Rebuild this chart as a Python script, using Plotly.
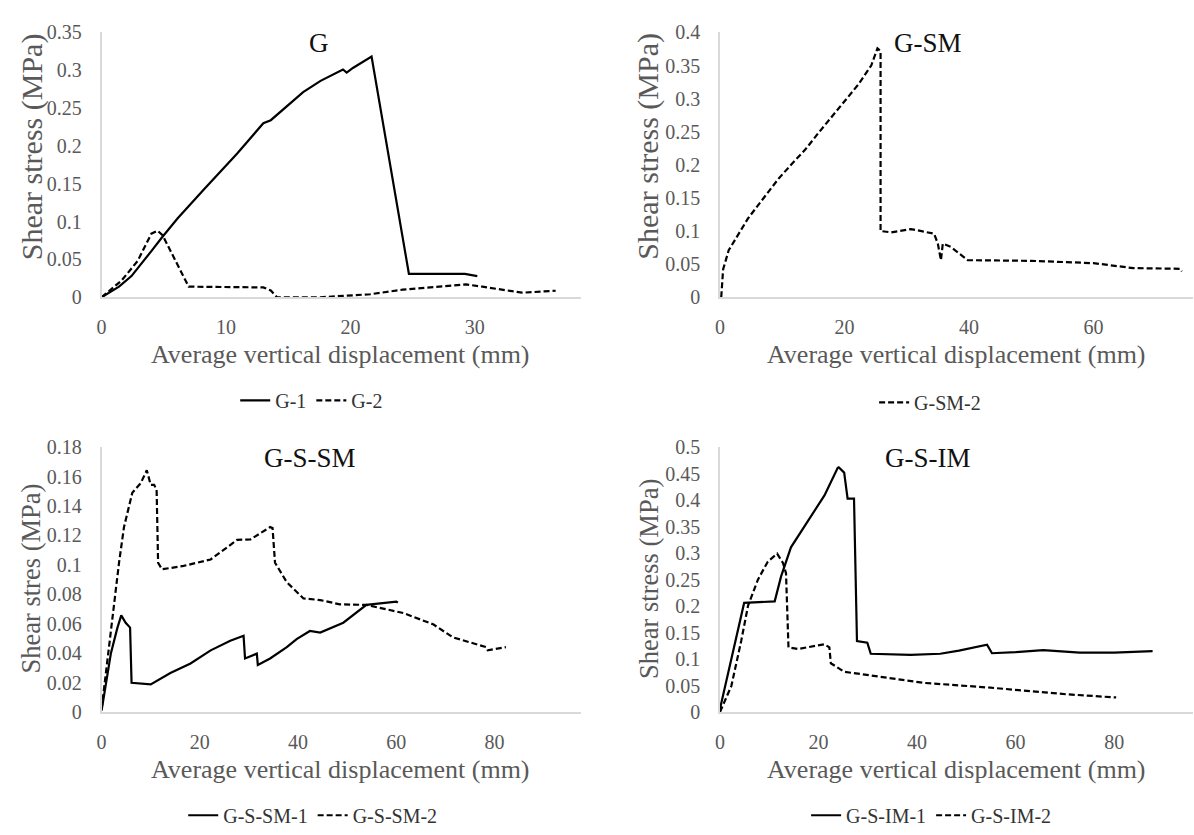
import plotly.graph_objects as go

# ---- measured curves: average vertical displacement (mm) vs shear stress (MPa)
g1_x = [0, 1.4, 2.4, 3.4, 4.0, 4.8, 6.1, 8.2, 10.9, 13.0, 13.3, 13.6, 16.2, 17.6,
        19.4, 19.7, 20.2, 21.7, 24.7, 29.2, 30.2]
g1_y = [0, 0.014, 0.028, 0.048, 0.061, 0.078, 0.104, 0.142, 0.190, 0.230, 0.232,
        0.234, 0.271, 0.286, 0.301, 0.297, 0.303, 0.318, 0.031, 0.031, 0.028]

g2_x = [0, 1.6, 2.9, 3.4, 4.0, 4.5, 4.9, 7.0, 10.1, 13.0, 13.6, 14.1, 17.6, 21.6,
        24.2, 26.5, 29.3, 30.6, 33.8, 36.5]
g2_y = [0, 0.022, 0.048, 0.065, 0.084, 0.088, 0.082, 0.014, 0.013, 0.013, 0.009,
        0.0, 0.0, 0.004, 0.010, 0.013, 0.017, 0.014, 0.006, 0.0086]

gsm2_x = [0.2, 0.5, 1.4, 3.0, 4.5, 6.2, 7.8, 9.4, 11.5, 13.7, 15.8, 17.9, 20.0,
          22.2, 24.3, 25.3, 25.8, 25.8, 27.5, 30.7, 34.4, 35.0, 35.5, 35.8, 37.1,
          39.8, 50.0, 60.0, 66.4, 73.9, 74.2]
gsm2_y = [0, 0.042, 0.071, 0.096, 0.119, 0.140, 0.160, 0.179, 0.201, 0.223, 0.248,
          0.272, 0.297, 0.321, 0.350, 0.376, 0.372, 0.100, 0.098, 0.103, 0.096,
          0.081, 0.056, 0.081, 0.076, 0.056, 0.055, 0.0515, 0.044, 0.043, 0.039]

gssm1_x = [0, 1.9, 3.2, 4.0, 4.9, 5.8, 6.1, 10.0, 14.0, 18.1, 22.2, 26.2, 28.9,
           29.2, 31.6, 31.8, 34.3, 37.7, 39.7, 42.4, 44.5, 49.2, 53.9, 60.0, 60.3]
gssm1_y = [0.001, 0.040, 0.057, 0.0657, 0.0607, 0.0574, 0.0199, 0.0188, 0.0265,
           0.033, 0.0419, 0.0485, 0.0518, 0.0364, 0.0397, 0.032, 0.0364, 0.0441,
           0.0496, 0.0551, 0.054, 0.0607, 0.0728, 0.075, 0.0743]

gssm2_x = [0, 0.85, 2.5, 3.55, 4.56, 6.25, 7.95, 9.2, 10.0, 10.7, 11.2, 11.5, 12.3,
           16.7, 22.2, 27.6, 30.3, 34.3, 34.8, 35.3, 37.7, 41.1, 44.5, 48.5, 53.9,
           61.4, 67.5, 71.5, 78.3, 78.6, 82.3]
gssm2_y = [0.002, 0.0265, 0.0706, 0.1015, 0.1257, 0.149, 0.1555, 0.1643, 0.1544,
           0.1544, 0.151, 0.1015, 0.097, 0.0993, 0.1037, 0.117, 0.1173, 0.1257,
           0.125, 0.1015, 0.0882, 0.0772, 0.0761, 0.0732, 0.0728, 0.0673, 0.0596,
           0.0508, 0.0441, 0.042, 0.0441]

gsim1_x = [0, 2.3, 3.7, 4.9, 11.1, 12.4, 14.4, 17.8, 21.2, 23.9, 24.1, 25.2, 25.9,
           27.2, 27.8, 29.9, 30.6, 38.7, 44.7, 48.5, 51.5, 54.2, 55.2, 60.0, 65.6,
           73.0, 80.0, 87.8]
gsim1_y = [0.006, 0.098, 0.153, 0.206, 0.209, 0.256, 0.311, 0.360, 0.409, 0.461,
           0.462, 0.452, 0.403, 0.403, 0.134, 0.131, 0.110, 0.108, 0.110, 0.116,
           0.122, 0.127, 0.111, 0.113, 0.117, 0.112, 0.112, 0.115]

gsim2_x = [0, 2.3, 4.3, 5.7, 7.7, 9.7, 11.6, 12.8, 13.4, 13.9, 15.8, 21.2, 22.2,
           22.5, 25.2, 29.9, 34.6, 41.4, 54.9, 70.3, 80.4]
gsim2_y = [0, 0.049, 0.134, 0.201, 0.250, 0.284, 0.299, 0.281, 0.262, 0.122, 0.119,
           0.128, 0.122, 0.092, 0.076, 0.070, 0.064, 0.055, 0.046, 0.0335, 0.0275]

# ---- tick labels
g_xticks = [0, 10, 20, 30]
g_yticks = [0, 0.05, 0.1, 0.15, 0.2, 0.25, 0.3, 0.35]
gsm_xticks = [0, 20, 40, 60]
gsm_yticks = [0, 0.05, 0.1, 0.15, 0.2, 0.25, 0.3, 0.35, 0.4]
gssm_xticks = [0, 20, 40, 60, 80]
gssm_yticks = [0, 0.02, 0.04, 0.06, 0.08, 0.1, 0.12, 0.14, 0.16, 0.18]
gsim_xticks = [0, 20, 40, 60, 80]
gsim_yticks = [0, 0.05, 0.1, 0.15, 0.2, 0.25, 0.3, 0.35, 0.4, 0.45, 0.5]

W, H = 1194, 835
FONT = "Liberation Serif"
GREY = "#595959"
AXIS_LINE = "#d9d9d9"
DASH = "6px,3px"


def px(x):
    return x / W


def py(y):
    return (H - y) / H


fig = go.Figure()

series = [
    (g1_x, g1_y, "G-1", "solid", "x", "y", "legend"),
    (g2_x, g2_y, "G-2", DASH, "x", "y", "legend"),
    (gsm2_x, gsm2_y, "G-SM-2", DASH, "x2", "y2", "legend2"),
    (gssm1_x, gssm1_y, "G-S-SM-1", "solid", "x3", "y3", "legend3"),
    (gssm2_x, gssm2_y, "G-S-SM-2", DASH, "x3", "y3", "legend3"),
    (gsim1_x, gsim1_y, "G-S-IM-1", "solid", "x4", "y4", "legend4"),
    (gsim2_x, gsim2_y, "G-S-IM-2", DASH, "x4", "y4", "legend4"),
]
for xs, ys, name, dash, xa, ya, lg in series:
    fig.add_trace(go.Scatter(
        x=xs, y=ys, name=name, mode="lines",
        line=dict(color="black", width=2.2, dash=dash),
        xaxis=xa, yaxis=ya, legend=lg,
    ))


def fmt(v):
    return "0" if v == 0 else ("%g" % v)


def axis(domain, rng, ticks, anchor, ticklen):
    # invisible outside ticks are used only to push the labels off the axis line
    return dict(domain=domain, range=rng, anchor=anchor,
                tickvals=ticks, ticktext=[fmt(t) for t in ticks],
                showgrid=False, zeroline=False, showline=True,
                linecolor=AXIS_LINE, linewidth=1.5,
                ticks="outside", ticklen=ticklen, tickcolor="rgba(0,0,0,0)",
                tickfont=dict(family=FONT, size=20, color=GREY))


left = [px(97), px(578)]
right = [px(718), px(1193)]
top = [py(294), py(22)]
bottom = [py(720), py(448)]

XT, YT = 11, 14
layout = dict(
    width=W, height=H,
    margin=dict(l=0, r=0, t=0, b=0),
    paper_bgcolor="white", plot_bgcolor="white",
    font=dict(family=FONT),
    xaxis=axis(left, [0, 38.5], g_xticks, "y", XT),
    yaxis=axis(top, [0, 0.35], g_yticks, "x", YT),
    xaxis2=axis(right, [0, 76], gsm_xticks, "y2", XT),
    yaxis2=axis(top, [0, 0.4], gsm_yticks, "x2", YT),
    xaxis3=axis(left, [0, 97.5], gssm_xticks, "y3", XT),
    yaxis3=axis(bottom, [0, 0.18], gssm_yticks, "x3", YT),
    xaxis4=axis(right, [0, 96], gsim_xticks, "y4", XT),
    yaxis4=axis(bottom, [0, 0.5], gsim_yticks, "x4", YT),
)

legend_style = dict(orientation="h", xanchor="center", yanchor="middle",
                    bgcolor="rgba(0,0,0,0)", itemclick=False,
                    font=dict(family=FONT, size=20, color="#333333"),
                    tracegroupgap=0)
layout["legend"] = dict(legend_style, x=px(308), y=py(400))
layout["legend2"] = dict(legend_style, x=px(929), y=py(402))
layout["legend3"] = dict(legend_style, x=px(309), y=py(826))
layout["legend4"] = dict(legend_style, x=px(930), y=py(826))

annotations = []
# panel titles
for text, cx, cy in [("G", 315, 33), ("G-SM", 927, 33),
                     ("G-S-SM", 306, 459), ("G-S-IM", 927, 459)]:
    annotations.append(dict(text=text, x=px(cx), y=py(cy), xref="paper",
                            yref="paper", showarrow=False, xanchor="center",
                            yanchor="middle",
                            font=dict(family=FONT, size=27, color="#111111")))
# x-axis titles
for cx, cy in [(337, 353), (955, 353), (337, 779), (956, 779)]:
    annotations.append(dict(text="Average vertical displacement (mm)",
                            x=px(cx), y=py(cy), xref="paper", yref="paper",
                            showarrow=False, xanchor="center", yanchor="middle",
                            font=dict(family=FONT, size=26, color=GREY)))
# y-axis titles
for text, cx, cy, size in [("Shear stress (MPa)", 27, 139, 30),
                           ("Shear stress (MPa)", 646, 139, 30),
                           ("Shear stres (MPa)", 26, 583, 26.5),
                           ("Shear stress (MPa)", 646, 583, 26.5)]:
    annotations.append(dict(text=text, x=px(cx), y=py(cy), xref="paper",
                            yref="paper", showarrow=False, textangle=-90,
                            xanchor="center", yanchor="middle",
                            font=dict(family=FONT, size=size, color=GREY)))
layout["annotations"] = annotations

fig.update_layout(**layout)
fig.write_html("out.html")
